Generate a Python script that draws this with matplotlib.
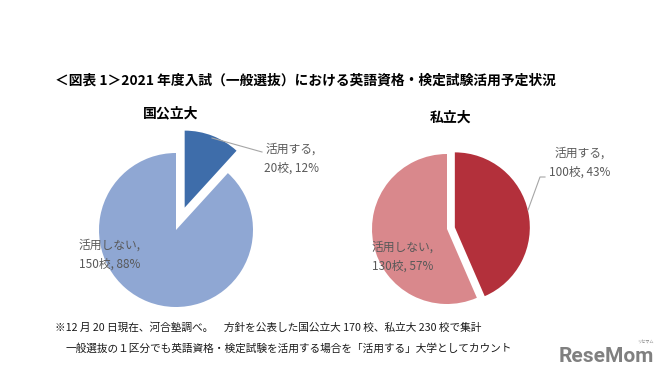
import matplotlib
matplotlib.use("Agg")
import matplotlib.pyplot as plt

plt.rcParams['font.family'] = ['Noto Sans CJK JP', 'DejaVu Sans']

# ---- data ----
title = "＜図表 1＞2021 年度入試（一般選抜）における英語資格・検定試験活用予定状況"
groups = ["国公立大", "私立大"]
categories = ["活用する", "活用しない"]
national_counts = [20, 150]
private_counts = [100, 130]
footnote1 = "※12 月 20 日現在、河合塾調べ。　方針を公表した国公立大 170 校、私立大 230 校で集計"
footnote2 = "一般選抜の１区分でも英語資格・検定試験を活用する場合を「活用する」大学としてカウント"

W, H = 669, 379
fig = plt.figure(figsize=(W / 100, H / 100), dpi=100)
ax = fig.add_axes([0, 0, 1, 1])


def Y(y):
    return H - y


label_color = "#595959"


def draw_pie(counts, colors, center, radius, explode, label_pos, lines):
    total = sum(counts)
    ax.pie(counts, colors=colors, startangle=90, counterclock=False,
           radius=radius, center=(center[0], Y(center[1])), explode=explode,
           wedgeprops=dict(linewidth=0), frame=True)
    for cat, n, (lx, ly) in zip(categories, counts, label_pos):
        pct = round(n / total * 100)
        ax.text(lx, Y(ly), f"{cat},", ha="center", va="center",
                fontsize=8.5, color=label_color)
        ax.text(lx, Y(ly + 19), f"{n}校, {pct}%", ha="center", va="center",
                fontsize=8.5, color=label_color)
    for seg in lines:
        xs = [p[0] for p in seg]
        ys = [Y(p[1]) for p in seg]
        ax.plot(xs, ys, color="#A6A6A6", lw=0.8)


# National / public universities
draw_pie(national_counts, ["#3E6DAA", "#8FA7D3"], (176, 230), 77, [24, 0],
         [(291, 149), (110, 245)],
         [[(212, 138), (262, 152)]])

# Private universities
draw_pie(private_counts, ["#B3303B", "#D9888C"], (447, 229), 75, [8, 0],
         [(580, 153), (403, 247)],
         [[(528, 210), (540, 177), (545, 177)]])

# titles
ax.text(55, Y(81), title, ha="left", va="center", fontsize=9.9,
        fontweight="bold", color="black")
ax.text(171, Y(113), groups[0], ha="center", va="center", fontsize=10,
        fontweight="bold", color="black")
ax.text(451, Y(118), groups[1], ha="center", va="center", fontsize=10,
        fontweight="bold", color="black")

# footnotes
ax.text(55, Y(328), footnote1, ha="left", va="center", fontsize=7.7,
        color="#1a1a1a")
ax.text(66, Y(348), footnote2, ha="left", va="center", fontsize=7.7,
        color="#1a1a1a")

# logo
ax.text(606, Y(357), "ReseMom", ha="center", va="center", fontsize=15,
        fontweight="bold", color="#808080", family=["Roboto", "DejaVu Sans"])
ax.text(645, Y(342), "リセマム", ha="center", va="center", fontsize=3,
        color="#808080")

ax.set_xlim(0, W)
ax.set_ylim(0, H)
ax.set_aspect("equal")
ax.axis("off")

fig.savefig("out.png", dpi=100, facecolor="white")
